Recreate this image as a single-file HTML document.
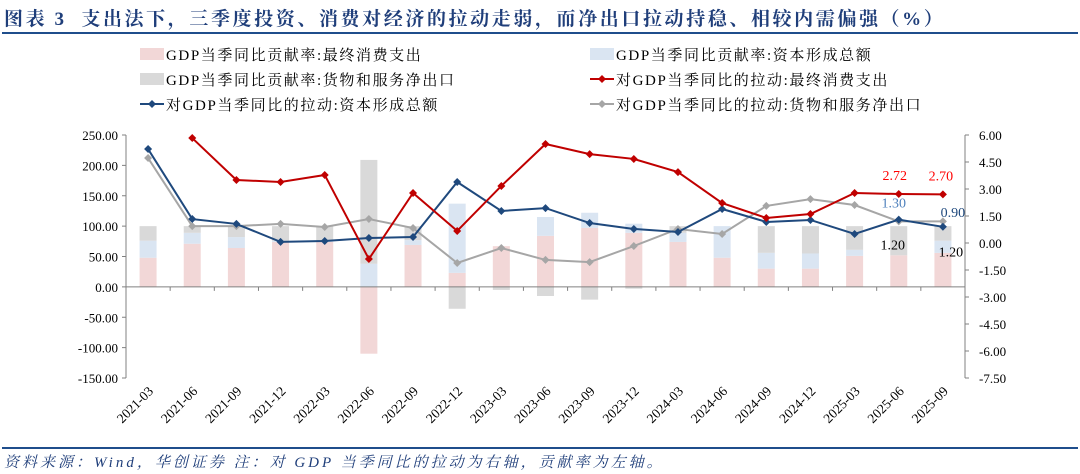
<!DOCTYPE html>
<html><head><meta charset="utf-8"><style>
html,body{margin:0;padding:0;background:#fff;}
svg{display:block;font-family:"Liberation Serif","Noto Serif CJK SC",serif;}
</style></head><body>
<svg id="c" width="1080" height="474" viewBox="0 0 1080 474">
<text x="4" y="25" font-size="19" font-weight="bold" fill="#1f3e7a" letter-spacing="2.6">图表 3&#160;&#160;支出法下，三季度投资、消费对经济的拉动走弱，而净出口拉动持稳、相较内需偏强（%）</text>
<line x1="2" y1="33" x2="1078" y2="33" stroke="#1f4e8c" stroke-width="2"/>
<g id="legend" font-size="15" fill="#000" letter-spacing="1.6">
<rect x="140" y="48" width="24" height="12" fill="#f2d7d7"/>
<text x="166" y="60">GDP当季同比贡献率:最终消费支出</text>
<rect x="590" y="48" width="24" height="12" fill="#dae5f2"/>
<text x="616" y="60">GDP当季同比贡献率:资本形成总额</text>
<rect x="140" y="73" width="24" height="12" fill="#d9d9d9"/>
<text x="166" y="85">GDP当季同比贡献率:货物和服务净出口</text>
<line x1="590" y1="79" x2="614" y2="79" stroke="#c00000" stroke-width="2"/><path d="M602 75 L606 79 L602 83 L598 79Z" fill="#c00000"/>
<text x="616" y="85">对GDP当季同比的拉动:最终消费支出</text>
<line x1="140" y1="104" x2="164" y2="104" stroke="#1f497d" stroke-width="2"/><path d="M152 100 L156 104 L152 108 L148 104Z" fill="#1f497d"/>
<text x="166" y="110">对GDP当季同比的拉动:资本形成总额</text>
<line x1="590" y1="104" x2="614" y2="104" stroke="#a6a6a6" stroke-width="2"/><path d="M602 100 L606 104 L602 108 L598 104Z" fill="#a6a6a6"/>
<text x="616" y="110">对GDP当季同比的拉动:货物和服务净出口</text>
</g>
<g id="plot"></g>
<line x1="2" y1="448" x2="1078" y2="448" stroke="#1f4e8c" stroke-width="2"/>
<text x="4" y="467" font-size="15" font-style="italic" fill="#1f3e7a" letter-spacing="3">资料来源：Wind，华创证券 注：对 GDP 当季同比的拉动为右轴，贡献率为左轴。</text>
</svg>
<script>
const categories=["2021-03","2021-06","2021-09","2021-12","2022-03","2022-06","2022-09","2022-12","2023-03","2023-06","2023-09","2023-12","2024-03","2024-06","2024-09","2024-12","2025-03","2025-06","2025-09"];
const shareConsumption=[48,71,64,74,74,-110,69,23,67,84,97,89,74,48,30,30,51,52,56];
const shareCapital=[28,18,18,2,2,38,8,114,0,31,25,15,15,52,26,25,10,0,20];
const shareNetExport=[24,11,18,24,24,171,23,-36,-5,-15,-21,-3,11,0,44,45,39,48,24];
const pullConsumption=[null,5.83,3.5,3.39,3.78,-0.89,2.78,0.67,3.17,5.5,4.94,4.67,3.94,2.22,1.39,1.61,2.78,2.72,2.70];
const pullCapital=[5.22,1.33,1.06,0.06,0.11,0.28,0.33,3.39,1.78,1.94,1.11,0.78,0.61,1.89,1.17,1.28,0.5,1.30,0.90];
const pullNetExport=[4.72,0.94,0.94,1.06,0.89,1.33,0.83,-1.11,-0.28,-0.94,-1.06,-0.17,0.78,0.5,2.06,2.44,2.11,1.20,1.20];
const leftTicks=[250,200,150,100,50,0,-50,-100,-150];
const rightTicks=[6,4.5,3,1.5,0,-1.5,-3,-4.5,-6,-7.5];

const NS="http://www.w3.org/2000/svg";
const g=document.getElementById('plot');
const X0=126,X1=965,YT=135,YB=378;
const step=(X1-X0)/categories.length;
const xs=i=>X0+step*(i+0.5);
const yl=v=>YT+(250-v)*(YB-YT)/400;
const yr=v=>YT+(6-v)*(YB-YT)/13.5;
function mk(t,a,p){const e=document.createElementNS(NS,t);for(const k in a)e.setAttribute(k,a[k]);(p||g).appendChild(e);return e;}

let e=mk('line',{x1:X0,y1:YT,x2:X0,y2:YB,stroke:'#808080'});


e=mk('line',{x1:X1,y1:YT,x2:X1,y2:YB,stroke:'#808080'});


leftTicks.forEach(v=>{
  mk('line',{x1:X0-4,y1:yl(v),x2:X0,y2:yl(v),stroke:'#808080'});
  const t=mk('text',{x:X0-8,y:yl(v)+5,'text-anchor':'end','font-size':13});
  t.textContent=v.toFixed(2);
  
  
});
rightTicks.forEach(v=>{
  mk('line',{x1:X1,y1:yr(v),x2:X1+4,y2:yr(v),stroke:'#808080'});
  const t=mk('text',{x:X1+14,y:yr(v)+5,'font-size':13});
  t.textContent=v.toFixed(2);
  
  
});
const bw=17;
categories.forEach((c,i)=>{
  let pos=0,neg=0;
  [[shareConsumption,'#f2d7d7','bar-consumption'],[shareCapital,'#dae5f2','bar-capital'],[shareNetExport,'#d9d9d9','bar-netexport']].forEach(([arr,col,nm])=>{
    const v=arr[i];if(!v)return;
    let a,b;
    if(v>0){a=pos;b=pos+v;pos=b;}else{a=neg;b=neg+v;neg=b;}
    const r=mk('rect',{x:xs(i)-bw/2,y:Math.min(yl(a),yl(b)),width:bw,height:Math.abs(yl(a)-yl(b)),fill:col});
    
    
  });
});
e=mk('line',{x1:X0,y1:yl(0),x2:X1,y2:yl(0),stroke:'#808080'});


for(let i=0;i<=categories.length;i++)mk('line',{x1:X0+step*i,y1:yl(0),x2:X0+step*i,y2:yl(0)+4,stroke:'#808080'});
categories.forEach((c,i)=>{
  const t=mk('text',{x:xs(i)+6,y:392,'text-anchor':'end','font-size':13.5,transform:`rotate(-45 ${xs(i)+6} 392)`});
  t.textContent=c;
  
  
});
[[pullNetExport,'#a6a6a6','line-netexport-pull'],[pullCapital,'#1f497d','line-capital-pull'],[pullConsumption,'#c00000','line-consumption-pull']].forEach(([arr,col,nm])=>{
  let d='';
  arr.forEach((v,i)=>{if(v===null)return;d+=(d?'L':'M')+xs(i)+' '+yr(v);});
  const p=mk('path',{d:d,fill:'none',stroke:col,'stroke-width':2});
  
  
  arr.forEach((v,i)=>{if(v===null)return;const x=xs(i),y=yr(v);
    const m=mk('path',{d:`M${x} ${y-4}L${x+4} ${y}L${x} ${y+4}L${x-4} ${y}Z`,fill:col});
    
    
  });
});
const n=categories.length;
function lab(txt,x,y,col,nm){const t=mk('text',{x:x,y:y,'text-anchor':'middle','font-size':14,fill:col});t.textContent=txt;}
lab(pullConsumption[n-2].toFixed(2),xs(n-2)-4,yr(pullConsumption[n-2])-14,'#ff0000','label-consumption-2025-06');
lab(pullConsumption[n-1].toFixed(2),xs(n-1)-2,yr(pullConsumption[n-1])-14,'#ff0000','label-consumption-2025-09');
lab(pullCapital[n-2].toFixed(2),xs(n-2)-5,yr(pullCapital[n-2])-12,'#4f81bd','label-capital-2025-06');
lab(pullCapital[n-1].toFixed(2),xs(n-1)+10,yr(pullCapital[n-1])-10,'#1f497d','label-capital-2025-09');
lab(pullNetExport[n-2].toFixed(2),xs(n-2)-6,yr(pullNetExport[n-2])+28,'#000','label-netexport-2025-06');
lab(pullNetExport[n-1].toFixed(2),xs(n-1)+8,yr(pullNetExport[n-1])+35,'#000','label-netexport-2025-09');
</script>
</body></html>
